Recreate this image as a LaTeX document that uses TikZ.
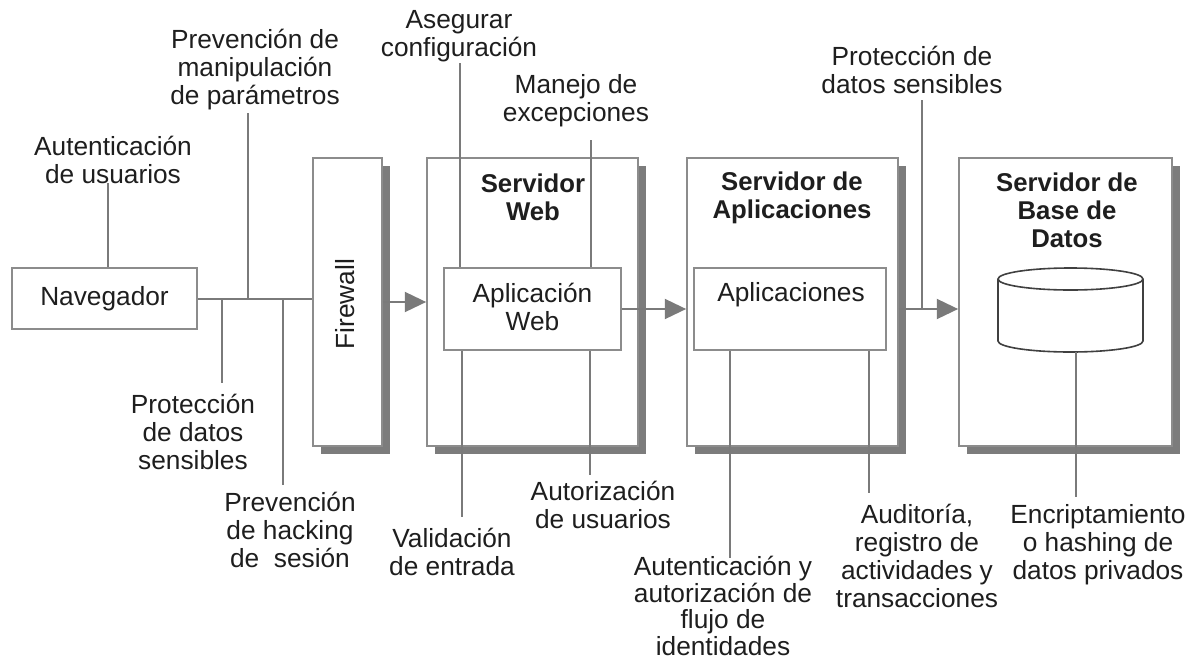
\documentclass[tikz,border=0pt]{standalone}
\usepackage{fontspec}
\setmainfont{Liberation Sans}
\usetikzlibrary{arrows.meta,shadows}
\definecolor{bordergray}{HTML}{8C8C8C}
\definecolor{linegray}{HTML}{7A7A7A}
\definecolor{shadowgray}{HTML}{7C7C7C}
\definecolor{txt}{HTML}{1E1E1E}
\begin{document}
\begin{tikzpicture}[x=0.75pt,y=-0.75pt,
  lbl/.style={align=center,text=txt,font=\fontsize{19.7}{21}\selectfont,inner sep=0pt},
  ttl/.style={lbl,font=\fontsize{19.3}{21}\selectfont\bfseries},
  box/.style={draw=bordergray,line width=1.3pt,fill=white,inner sep=0pt},
  srv/.style={box,general shadow={shadow xshift=6pt,shadow yshift=-6pt,fill=shadowgray}},
  conn/.style={draw=linegray,line width=1.1pt},
  flow/.style={draw=linegray,line width=1.5pt,-{Triangle[length=16pt,width=15pt,fill=linegray]}}]
\useasboundingbox[fill=white] (0,0) rectangle (1197,661);

% main boxes
\node[box,lbl,draw=bordergray,line width=1.3pt,minimum width=138.75pt,minimum height=45.75pt] (nav) at (104.5,298.5) {Navegador};
\node[srv,minimum width=51.75pt,minimum height=216pt] (fw) at (347.5,302) {};
\node[lbl,rotate=90] (fwt) at (345,304) {Firewall};
\node[srv,minimum width=158.25pt,minimum height=216pt] (ws) at (532.5,302) {};
\node[ttl] (wst) at (533,197) {Servidor\\Web};
\node[box,minimum width=132.75pt,minimum height=61.5pt] (aw) at (532.5,309) {};
\node[lbl] (awt) at (532.5,307) {Aplicación\\Web};
\node[srv,minimum width=158.25pt,minimum height=216pt] (as) at (792.5,302) {};
\node[ttl] (ast) at (792,198) {Servidor de\\Aplicaciones};
\node[box,minimum width=144pt,minimum height=61.5pt] (ap) at (790,309) {};
\node[lbl] (apt) at (791,295) {Aplicaciones};
\node[srv,minimum width=159.75pt,minimum height=216pt] (db) at (1065.5,302) {};
\node[ttl] (dbt) at (1067,210) {Servidor de\\Base de\\Datos};

% cylinder
\coordinate (cylt) at (1070.5,279);
\coordinate (cylb) at (1076,352);
\draw[draw=txt!85,line width=1.2pt,fill=white] (998,279) -- (998,341) arc[start angle=180,end angle=360,x radius=54.375pt,y radius=8.25pt] -- (1143,279);
\draw[draw=txt!85,line width=1.2pt] (cylt) ellipse[x radius=54.375pt,y radius=8.25pt];

% flow
\draw[conn,line width=1.5pt] (nav.east) -- (nav.east -| fw.west);
\draw[flow] (fw.east) -- (ws.west);
\draw[flow] (aw.east) -- (aw.east -| as.west);
\draw[flow] (aw.east -| as.east) -- (aw.east -| db.west);

% top labels
\node[lbl] (l1) at (113,160) {Autenticación\\de usuarios};
\coordinate (c1) at (108,183);
\draw[conn] (c1) -- (c1 |- nav.north);
\node[lbl] (l2) at (255,70) {Prevención de\\manipulación\\de parámetros};
\coordinate (c2) at (248,113);
\draw[conn] (c2) -- (c2 |- nav.east);
\node[lbl] (l3) at (459,36) {Asegurar\\configuración};
\coordinate (c3) at (460,63);
\draw[conn] (c3) -- (c3 |- aw.north);
\node[lbl] (l4) at (576,101) {Manejo de\\excepciones};
\coordinate (c4) at (591,140);
\draw[conn] (c4) -- (c4 |- aw.north);
\node[lbl] (l5) at (912,70) {Protección de\\datos sensibles};
\coordinate (c5) at (922,100);
\draw[conn] (c5) -- (c5 |- aw.east);

% bottom labels
\node[lbl] (l6) at (193,432) {Protección\\de datos\\sensibles};
\coordinate (c6) at (222,383);
\draw[conn] (c6 |- nav.east) -- (c6);
\node[lbl] (l7) at (290,530) {Prevención\\de hacking\\de~~sesión};
\coordinate (c7) at (283,485);
\draw[conn] (c7 |- nav.east) -- (c7);
\node[lbl] (l8) at (452,552) {Validación\\de entrada};
\coordinate (c8) at (462,517);
\draw[conn] (c8 |- aw.south) -- (c8);
\node[lbl] (l9) at (603,505) {Autorización\\de usuarios};
\coordinate (c9) at (590,475);
\draw[conn] (c9 |- aw.south) -- (c9);
\node[lbl,font=\fontsize{19.7}{20}\selectfont] (l10) at (723,606) {Autenticación y\\autorización de\\flujo de\\identidades};
\coordinate (c10) at (730,558);
\draw[conn] (c10 |- ap.south) -- (c10);
\node[lbl] (l11) at (917,556) {Auditoría,\\registro de\\actividades y\\transacciones};
\coordinate (c11) at (869,493);
\draw[conn] (c11 |- ap.south) -- (c11);
\node[lbl] (l12) at (1098,545) {Encriptamiento\\o hashing de\\datos privados};
\coordinate (c12) at (1076,497);
\draw[conn] (cylb) -- (c12);
\end{tikzpicture}
\end{document}
